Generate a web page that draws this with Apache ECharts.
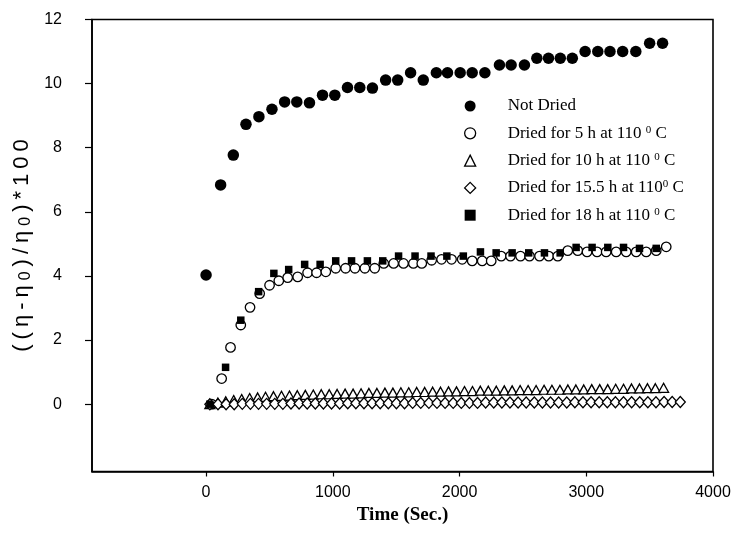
<!DOCTYPE html>
<html><head><meta charset="utf-8">
<script src="https://cdn.jsdelivr.net/npm/echarts@6/dist/echarts.min.js"></script>
<style>html,body{margin:0;padding:0;background:#fff}#c{width:737px;height:546px}</style>
</head><body><div id="c"></div>
<script>
const xTicks = [0, 1000, 2000, 3000, 4000];
const yTicks = [0, 2, 4, 6, 8, 10, 12];
const seriesNames = ['Not Dried', 'Dried for 5 h at 110 0 C', 'Dried for 10 h at 110 0 C', 'Dried for 15.5 h at 1100 C', 'Dried for 18 h at 110 0 C'];

const notDriedX = [0,115,215,315,417,520,620,716,816,919,1016,1116,1213,1313,1417,1512,1614,1714,1817,1905,2005,2100,2200,2315,2407,2512,2610,2702,2795,2890,2991,3091,3187,3287,3391,3500,3602];
const notDriedY = [4.03,6.84,7.77,8.73,8.97,9.20,9.43,9.43,9.40,9.64,9.64,9.88,9.88,9.86,10.11,10.11,10.34,10.11,10.34,10.34,10.34,10.34,10.34,10.58,10.58,10.58,10.79,10.79,10.79,10.79,11.00,11.00,11.00,11.00,11.00,11.26,11.26];

const dried5X = [45,123,193,274,347,423,501,574,644,723,801,872,945,1023,1101,1175,1253,1331,1402,1480,1558,1636,1702,1780,1858,1937,2021,2100,2179,2250,2329,2402,2481,2552,2631,2704,2775,2854,2933,3006,3085,3157,3236,3315,3394,3473,3552,3631];
const dried5Y = [0.00,0.80,1.77,2.47,3.02,3.45,3.71,3.85,3.95,3.97,4.10,4.10,4.13,4.24,4.24,4.24,4.24,4.24,4.39,4.39,4.39,4.39,4.39,4.49,4.52,4.52,4.52,4.47,4.47,4.47,4.62,4.62,4.62,4.62,4.62,4.62,4.62,4.79,4.79,4.75,4.75,4.75,4.75,4.75,4.75,4.75,4.79,4.91];

const dried10X = [30,93,155,218,281,344,407,469,532,595,658,720,783,846,909,972,1034,1097,1160,1223,1285,1348,1411,1474,1537,1599,1662,1725,1788,1850,1913,1976,2039,2102,2164,2227,2290,2353,2415,2478,2541,2604,2667,2729,2792,2855,2918,2980,3043,3106,3169,3232,3294,3357,3420,3483,3545,3610];
const dried10Y = [0.00,0.05,0.09,0.13,0.16,0.19,0.21,0.23,0.25,0.26,0.27,0.28,0.29,0.30,0.31,0.31,0.32,0.33,0.33,0.34,0.35,0.35,0.36,0.36,0.37,0.37,0.38,0.38,0.39,0.39,0.40,0.40,0.41,0.41,0.42,0.42,0.42,0.43,0.43,0.44,0.44,0.44,0.45,0.45,0.45,0.46,0.46,0.46,0.47,0.47,0.47,0.48,0.48,0.49,0.49,0.50,0.50,0.51];

const dried155X = [30,94,158,222,286,350,414,478,542,606,670,734,798,862,926,990,1054,1118,1182,1246,1310,1374,1438,1502,1566,1630,1694,1758,1822,1886,1950,2014,2078,2142,2206,2270,2334,2398,2462,2526,2590,2654,2718,2782,2846,2910,2974,3038,3102,3166,3230,3294,3358,3422,3486,3550,3614,3678,3742];
const dried155Y = [0.00,0.00,0.00,0.00,0.01,0.01,0.01,0.01,0.01,0.01,0.02,0.02,0.02,0.02,0.02,0.02,0.02,0.03,0.03,0.03,0.03,0.03,0.03,0.03,0.03,0.04,0.04,0.04,0.04,0.04,0.04,0.04,0.04,0.04,0.05,0.05,0.05,0.05,0.05,0.05,0.05,0.05,0.05,0.05,0.05,0.06,0.06,0.06,0.06,0.06,0.06,0.06,0.06,0.06,0.06,0.06,0.07,0.07,0.07];

const dried18X = [30,154,274,415,535,652,778,900,1023,1148,1273,1394,1519,1649,1775,1900,2030,2165,2289,2415,2546,2670,2794,2920,3046,3170,3294,3420,3552];
const dried18Y = [0.00,1.15,2.62,3.51,4.08,4.20,4.36,4.36,4.47,4.47,4.47,4.47,4.62,4.62,4.62,4.62,4.62,4.75,4.72,4.72,4.72,4.72,4.72,4.89,4.89,4.89,4.89,4.86,4.86];

const yTitleParts = ['(', '(', 'η', '-', 'η', '0', ')', '/', 'η', '0', ')', '*', '1', '0', '0'];
const yTitleSub = [false, false, false, false, false, true, false, false, false, true, false, false, false, false, false];

const zip = (a, b) => a.map((v, i) => [v, b[i]]);
const legendRich = {
  'Not Dried': 'Not Dried',
  'Dried for 5 h at 110 0 C': 'Dried for 5 h at 110 {s|0} C',
  'Dried for 10 h at 110 0 C': 'Dried for 10 h at 110 {s|0} C',
  'Dried for 15.5 h at 1100 C': 'Dried for 15.5 h at 110{s|0} C',
  'Dried for 18 h at 110 0 C': 'Dried for 18 h at 110 {s|0} C'
};
const yTitle = yTitleParts.map((c, i) => '{' + (yTitleSub[i] ? 'b' : 'c') + '|' + c + '}').join('');
const black = '#000';
const hollow = {color: '#fff', borderColor: black, borderWidth: 1.3, opacity: 1};
const solid = {color: black, opacity: 1};

const chart = echarts.init(document.getElementById('c'), null, {renderer: 'canvas'});
chart.setOption({
  animation: false,
  backgroundColor: '#fff',
  grid: {left: 92, right: 24, top: 19.5, bottom: 74.5, show: true, borderColor: black, borderWidth: 1.6, backgroundColor: 'transparent'},
  legend: {
    orient: 'vertical', left: 459, top: 92, itemWidth: 11, itemHeight: 11, itemGap: 9.3,
    data: [
      {name: seriesNames[0], icon: 'circle', itemStyle: {color: black, borderWidth: 0}},
      {name: seriesNames[1], icon: 'circle', itemStyle: hollow},
      {name: seriesNames[2], icon: 'triangle', itemStyle: hollow},
      {name: seriesNames[3], icon: 'diamond', itemStyle: hollow},
      {name: seriesNames[4], icon: 'rect', itemStyle: {color: black, borderWidth: 0}}
    ],
    formatter: n => legendRich[n],
    textStyle: {
      fontFamily: 'Liberation Serif', fontSize: 17, color: black, lineHeight: 18, padding: [0, 0, 0, 27],
      rich: {s: {fontFamily: 'Liberation Serif', fontSize: 11, lineHeight: 11, verticalAlign: 'top', color: black}}
    }
  },
  xAxis: {
    type: 'value', min: -900, max: 4000,
    name: 'Time (Sec.)', nameLocation: 'middle', nameGap: 31,
    nameTextStyle: {fontFamily: 'Liberation Serif', fontWeight: 'bold', fontSize: 19, color: black},
    axisLine: {show: true, onZero: false, lineStyle: {color: black, width: 1.6}},
    axisTick: {show: true, inside: false, length: 5, customValues: xTicks, lineStyle: {color: black, width: 1.2}},
    axisLabel: {customValues: xTicks, margin: 13, fontFamily: 'Liberation Sans', fontSize: 16, color: black, formatter: v => String(v)},
    splitLine: {show: false}
  },
  yAxis: {
    type: 'value', min: -2.1, max: 12,
    name: yTitle, nameLocation: 'middle', nameGap: 56, nameRotate: 90,
    nameTextStyle: {fontFamily: 'Liberation Sans', fontSize: 22, color: black,
      rich: {
        c: {fontFamily: 'Liberation Sans', fontSize: 22, padding: [0, 2.5, 0, 2.5], verticalAlign: 'bottom', color: black},
        b: {fontFamily: 'Liberation Sans', fontSize: 16, padding: [0, 2.5, 0, 2.5], verticalAlign: 'bottom', color: black}
      }},
    axisLine: {show: true, onZero: false, lineStyle: {color: black, width: 1.6}},
    axisTick: {show: true, inside: false, length: 7, customValues: yTicks, lineStyle: {color: black, width: 1.2}},
    axisLabel: {customValues: yTicks, margin: 30, fontFamily: 'Liberation Sans', fontSize: 16, color: black, formatter: v => String(v)},
    splitLine: {show: false}
  },
  series: [
    {name: seriesNames[0], type: 'scatter', data: zip(notDriedX, notDriedY), symbol: 'circle', symbolSize: 11.5, itemStyle: solid},
    {name: seriesNames[1], type: 'scatter', data: zip(dried5X, dried5Y), symbol: 'circle', symbolSize: 9.5, itemStyle: hollow},
    {name: seriesNames[2], type: 'scatter', data: zip(dried10X, dried10Y), symbol: 'triangle', symbolSize: [10, 9], itemStyle: hollow},
    {name: seriesNames[3], type: 'scatter', data: zip(dried155X, dried155Y), symbol: 'diamond', symbolSize: [10, 11], itemStyle: hollow},
    {name: seriesNames[4], type: 'scatter', data: zip(dried18X, dried18Y), symbol: 'rect', symbolSize: 7.5, itemStyle: solid}
  ]
});
</script></body></html>
